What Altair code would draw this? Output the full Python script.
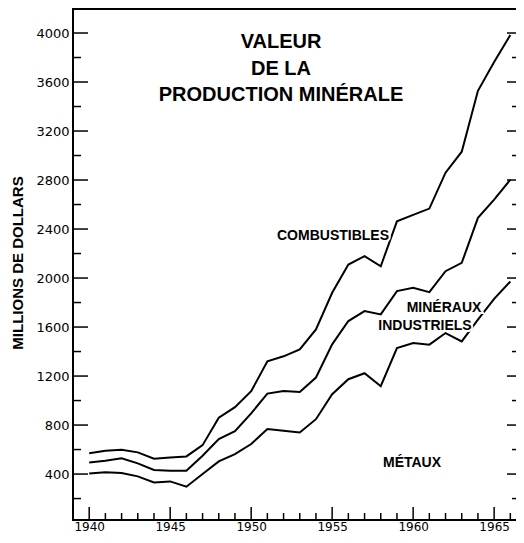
import altair as alt
import pandas as pd

years = [1940, 1941, 1942, 1943, 1944, 1945, 1946, 1947, 1948, 1949, 1950,
         1951, 1952, 1953, 1954, 1955, 1956, 1957, 1958, 1959, 1960,
         1961, 1962, 1963, 1964, 1965, 1966]

# cumulative totals (millions of dollars)
combustibles_top = [569, 590, 598, 577, 525, 536, 544, 636, 860, 946, 1076,
                    1320, 1361, 1418, 1581, 1880, 2110, 2178, 2096, 2463, 2515,
                    2567, 2860, 3031, 3528, 3764, 3984]
mineraux_top = [495, 508, 528, 487, 433, 427, 427, 549, 686, 750, 895,
                1057, 1078, 1070, 1188, 1459, 1649, 1730, 1703, 1893, 1921,
                1885, 2056, 2124, 2491, 2640, 2803]
metaux_top = [405, 414, 408, 381, 332, 340, 297, 400, 503, 563, 645,
              767, 753, 740, 848, 1052, 1174, 1223, 1117, 1429, 1470,
              1456, 1551, 1483, 1660, 1830, 1972]

series_names = ["Combustibles", "Minéraux industriels", "Métaux"]

y_labels = [400, 800, 1200, 1600, 2000, 2400, 2800, 3200, 3600, 4000]
y_minor = [200, 600, 1000, 1400, 1800, 2200, 2600, 3000, 3400, 3800]
x_labels = [1940, 1945, 1950, 1955, 1960, 1965]
x_minor = [1941, 1942, 1943, 1944, 1946, 1947, 1948, 1949, 1951, 1952, 1953,
           1954, 1956, 1957, 1958, 1959, 1961, 1962, 1963, 1964, 1966]

title_lines = ["VALEUR", "DE LA", "PRODUCTION MINÉRALE"]
y_title = "MILLIONS DE DOLLARS"
label_combustibles = "COMBUSTIBLES"
label_mineraux = ["MINÉRAUX", "INDUSTRIELS"]
label_metaux = "MÉTAUX"

W, H = 443, 511

rows = []
for name, vals in zip(series_names, [combustibles_top, mineraux_top, metaux_top]):
    for yr, v in zip(years, vals):
        rows.append({"year": yr, "value": v, "series": name})
df = pd.DataFrame(rows)

xscale = alt.Scale(domain=[1939, 1966.35], nice=False, zero=False)
yscale = alt.Scale(domain=[25, 4196], nice=False, zero=False)

lines = alt.Chart(df).mark_line(color="black", strokeWidth=2).encode(
    x=alt.X("year:Q", scale=xscale,
            axis=alt.Axis(values=x_labels, format="d", ticks=False, grid=False,
                          domain=False, title=None, labelFont="DejaVu Sans",
                          labelFontSize=12, labelColor="black", labelPadding=1)),
    y=alt.Y("value:Q", scale=yscale,
            axis=alt.Axis(values=y_labels, format="d", ticks=False, grid=False,
                          domain=False, title=None, labelFont="DejaVu Sans",
                          labelFontSize=13, labelColor="black", labelPadding=4)),
    detail="series:N",
)

def hticks(vals, x0, x1):
    return alt.Chart(pd.DataFrame({"value": vals})).mark_rule(
        color="black", strokeWidth=1.5).encode(
        y="value:Q", x=alt.value(x0), x2=alt.value(x1))

def vticks(vals, length):
    return alt.Chart(pd.DataFrame({"year": vals})).mark_rule(
        color="black", strokeWidth=1.5).encode(
        x="year:Q", y=alt.value(H), y2=alt.value(H - length))

ticks = [
    hticks(y_labels, 0, 15),
    hticks(y_minor, 0, 8),
    hticks(y_labels, W - 9, W),
    hticks(y_minor, W - 4, W),
    vticks(x_labels, 13),
    vticks(x_minor, 7),
]

frame_src = pd.DataFrame({"k": [0]})
frame = [
    alt.Chart(frame_src).mark_rule(color="black", strokeWidth=2).encode(
        x=alt.value(0), y=alt.value(0), y2=alt.value(H)),
    alt.Chart(frame_src).mark_rule(color="black", strokeWidth=2).encode(
        x=alt.value(-1), x2=alt.value(W), y=alt.value(0)),
    alt.Chart(frame_src).mark_rule(color="black", strokeWidth=2).encode(
        x=alt.value(-1), x2=alt.value(W), y=alt.value(H)),
]

def txt(s, x, y, size, angle=0, halo=False, baseline="alphabetic"):
    props = dict(font="Liberation Sans", fontWeight="bold", fontSize=size,
                 align="center", baseline=baseline, color="black")
    if angle:
        props["angle"] = angle
    if halo:
        props.update(stroke="white", strokeWidth=4, color="white")
    return alt.Chart(pd.DataFrame({"t": [s]})).mark_text(**props).encode(
        text="t:N", x=alt.value(x), y=alt.value(y))

texts = [
    txt(title_lines[0], 208, 39, 20),
    txt(title_lines[1], 208, 66, 20),
    txt(title_lines[2], 208, 92, 20),
    txt(y_title, -55, 254, 15, angle=270, baseline="middle"),
]
for halo in (True, False):
    texts += [
        txt(label_combustibles, 260, 231, 14, halo=halo),
        txt(label_mineraux[0], 371, 303, 14, halo=halo),
        txt(label_mineraux[1], 352, 321, 14, halo=halo),
        txt(label_metaux, 339, 458, 14, halo=halo),
    ]

chart = alt.layer(lines, *ticks, *frame, *texts).properties(
    width=W, height=H,
    autosize=alt.AutoSizeParams(type="none"),
    padding={"left": 65, "top": 1, "right": 0, "bottom": 15},
).configure(background="white").configure_view(stroke=None)

chart.save("out.html", embed_options={"renderer": "svg", "actions": False})
